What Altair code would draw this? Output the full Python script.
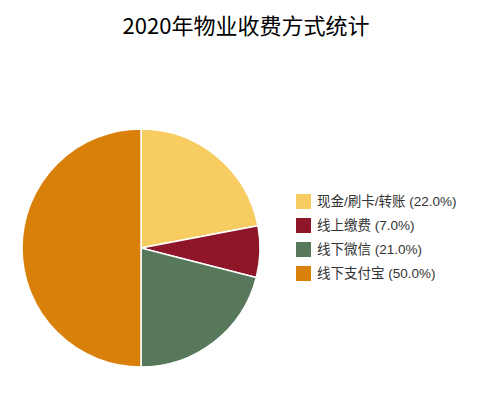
import altair as alt
import pandas as pd

categories = ["现金/刷卡/转账", "线上缴费", "线下微信", "线下支付宝"]
values = [22.0, 7.0, 21.0, 50.0]
colors = ["#F7CD62", "#8F1628", "#58785B", "#D9800B"]

labels = [f"{c} ({v:.1f}%)" for c, v in zip(categories, values)]
df = pd.DataFrame({"label": labels, "value": values, "order": list(range(len(values)))})

FONT = "Noto Sans CJK SC"
LABEL_FONT = "Liberation Sans, Noto Sans CJK SC"

chart = alt.Chart(df).mark_arc(stroke="white", strokeWidth=1.5, radius=119).encode(
    theta=alt.Theta("value:Q", stack=True),
    order=alt.Order("order:Q"),
    color=alt.Color(
        "label:N",
        sort=labels,
        scale=alt.Scale(domain=labels, range=colors),
        legend=alt.Legend(
            title=None,
            orient="none",
            legendX=288,
            legendY=145,
            symbolType="square",
            symbolSize=225,
            symbolStrokeWidth=0,
            labelFontSize=13.5,
            labelFont=LABEL_FONT,
            labelColor="#333333",
            rowPadding=9,
            labelOffset=6,
        ),
    ),
    x=alt.value(133),
    y=alt.value(199),
).properties(
    width=476,
    height=350,
    padding={"top": 8, "left": 0, "right": 0, "bottom": 0},
    title=alt.TitleParams(
        "2020年物业收费方式统计",
        fontSize=22,
        font=FONT,
        fontWeight="normal",
        color="#000000",
        anchor="middle",
        offset=10,
    ),
).configure_view(stroke=None)

chart.save("out.html", embed_options={"renderer": "svg", "actions": False})
